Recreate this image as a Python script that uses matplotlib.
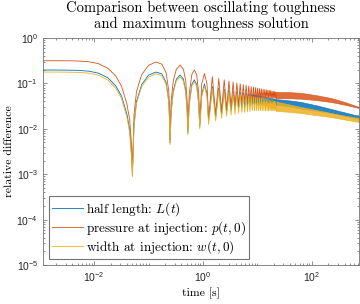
import numpy as np
import matplotlib
matplotlib.use('Agg')
import matplotlib.pyplot as plt
from matplotlib.ticker import LogLocator, NullFormatter

plt.rcParams['font.family'] = ['Liberation Sans', 'DejaVu Sans']
plt.rcParams['mathtext.fontset'] = 'cm'
plt.rcParams['axes.formatter.use_mathtext'] = True

# early part: flat start, first dip and the first wide oscillations
t_early = [1.15e-3, 2e-3, 3e-3, 5e-3, 8e-3, 0.012, 0.018, 0.025, 0.032, 0.04, 0.045, 0.049,
           0.0505,
           0.054, 0.06, 0.075, 0.1, 0.136, 0.175, 0.21, 0.235, 0.244,
           0.248,
           0.2597, 0.285, 0.324, 0.379, 0.4366, 0.4816, 0.5124,
           0.528,
           0.560, 0.625, 0.693, 0.763, 0.835,
           0.872,
           0.947, 1.064, 1.185,
           1.268]
L_early = [0.197, 0.197, 0.196, 0.194, 0.186, 0.168, 0.132, 0.088, 0.052, 0.021, 0.0095, 0.0025,
           0.00095,
           0.012, 0.04, 0.095, 0.152, 0.178, 0.162, 0.105, 0.042, 0.014,
           0.0049,
           0.024, 0.069, 0.124, 0.153, 0.124, 0.069, 0.024,
           0.0081,
           0.037, 0.096, 0.119, 0.096, 0.037,
           0.011,
           0.057, 0.097, 0.057,
           0.0145]
p_early = [0.316, 0.316, 0.315, 0.312, 0.300, 0.272, 0.215, 0.145, 0.086, 0.035, 0.016, 0.004,
           0.0011,
           0.02, 0.066, 0.157, 0.25, 0.296, 0.266, 0.172, 0.069, 0.023,
           0.0058,
           0.040, 0.115, 0.205, 0.254, 0.205, 0.115, 0.040,
           0.0095,
           0.061, 0.159, 0.197, 0.159, 0.061,
           0.013,
           0.097, 0.165, 0.097,
           0.017]
w_early = [0.178, 0.178, 0.177, 0.175, 0.168, 0.151, 0.118, 0.078, 0.046, 0.018, 0.0082, 0.0021,
           0.00088,
           0.011, 0.036, 0.086, 0.137, 0.163, 0.147, 0.095, 0.038, 0.0127,
           0.0045,
           0.0217, 0.063, 0.112, 0.139, 0.112, 0.063, 0.0217,
           0.0074,
           0.034, 0.088, 0.109, 0.088, 0.034,
           0.010,
           0.051, 0.088, 0.051,
           0.0125]

# later oscillations: peaks and dips
t_peak = [1.485, 1.950, 2.455, 2.998, 3.576, 4.187, 4.829, 5.501, 6.202, 6.930, 7.684, 8.464, 9.269,
          10.10, 10.95, 11.82, 12.72, 13.64, 14.58, 15.54, 16.52, 17.52, 18.54, 19.58, 20.64, 21.71]
t_dip = [1.712, 2.198, 2.722, 3.283, 3.877, 4.504, 5.161, 5.848, 6.562, 7.303, 8.071, 8.863, 9.680,
         10.52, 11.38, 12.27, 13.18, 14.11, 15.06, 16.03, 17.02, 18.03, 19.06, 20.10, 21.17, 22.26]
L_peak = [0.085, 0.079, 0.074, 0.071, 0.068, 0.066, 0.064, 0.062, 0.061, 0.059, 0.058, 0.057, 0.056,
          0.055, 0.054, 0.053, 0.052, 0.051, 0.050, 0.049, 0.048, 0.047, 0.047, 0.046, 0.045, 0.045]
L_dip = [0.018, 0.021, 0.023, 0.025, 0.027, 0.028, 0.029, 0.030, 0.031, 0.032, 0.032, 0.033, 0.033,
         0.033, 0.034, 0.034, 0.034, 0.034, 0.034, 0.034, 0.034, 0.034, 0.034, 0.034, 0.034, 0.034]
p_peak = [0.140, 0.128, 0.120, 0.113, 0.107, 0.102, 0.098, 0.094, 0.091, 0.088, 0.085, 0.083, 0.081,
          0.079, 0.077, 0.076, 0.074, 0.073, 0.072, 0.071, 0.070, 0.069, 0.068, 0.067, 0.066, 0.065]
p_dip = [0.021, 0.025, 0.028, 0.031, 0.033, 0.035, 0.037, 0.039, 0.040, 0.041, 0.042, 0.043, 0.044,
         0.045, 0.045, 0.046, 0.046, 0.047, 0.047, 0.047, 0.047, 0.047, 0.047, 0.047, 0.047, 0.047]
w_peak = [0.077, 0.071, 0.067, 0.064, 0.061, 0.059, 0.058, 0.056, 0.055, 0.053, 0.052, 0.051, 0.050,
          0.049, 0.049, 0.048, 0.047, 0.046, 0.045, 0.044, 0.043, 0.042, 0.042, 0.041, 0.041, 0.040]
w_dip = [0.015, 0.017, 0.019, 0.020, 0.021, 0.022, 0.023, 0.023, 0.024, 0.024, 0.025, 0.025, 0.025,
         0.025, 0.025, 0.025, 0.025, 0.025, 0.025, 0.025, 0.025, 0.025, 0.025, 0.025, 0.025, 0.025]

# dense oscillations at late time, seen as a band: upper and lower edge
t_band = [21.7, 40, 63, 120, 224, 400, 735]
L_hi = [0.045, 0.042, 0.039, 0.033, 0.0273, 0.023, 0.0191]
L_lo = [0.034, 0.031, 0.028, 0.025, 0.0225, 0.0195, 0.0164]
p_hi = [0.065, 0.064, 0.062, 0.055, 0.0477, 0.039, 0.0302]
p_lo = [0.047, 0.047, 0.046, 0.043, 0.039, 0.034, 0.0287]
w_hi = [0.040, 0.034, 0.0302, 0.026, 0.0223, 0.0195, 0.0173]
w_lo = [0.025, 0.0235, 0.0223, 0.020, 0.0182, 0.016, 0.0141]

labels = ['half length: $L(t)$', 'pressure at injection: $p(t,0)$', 'width at injection: $w(t,0)$']
colors = ['#0072BD', '#D95319', '#EDB120']


def build(early_t, early_v, peak_v, dip_v):
    t = list(early_t)
    v = list(early_v)
    for tp, vp, td, vd in zip(t_peak, peak_v, t_dip, dip_v):
        t += [tp, td]
        v += [vp, vd]
    return t, v


series = [
    (L_early, L_peak, L_dip, L_lo, L_hi),
    (p_early, p_peak, p_dip, p_lo, p_hi),
    (w_early, w_peak, w_dip, w_lo, w_hi),
]

fig = plt.figure(figsize=(3.6, 3.04), dpi=100)
ax = fig.add_axes([43 / 360, 39 / 304, 316 / 360, 227 / 304])

for (ev, pv, dv, lo, hi), c, lab in zip(series, colors, labels):
    t, v = build(t_early, ev, pv, dv)
    ax.plot(t, v, color=c, lw=0.6, label=lab)
    ax.fill_between(t_band, lo, hi, facecolor=c, edgecolor=c, lw=0.5, alpha=0.85)

ax.set_xscale('log')
ax.set_yscale('log')
ax.set_xlim(1.15e-3, 735)
ax.set_ylim(1e-5, 1)
ax.set_xticks([1e-2, 1, 1e2])
ax.set_yticks([1e-5, 1e-4, 1e-3, 1e-2, 1e-1, 1])
ax.xaxis.set_minor_locator(LogLocator(base=10, subs=np.arange(1, 10), numticks=30))
ax.yaxis.set_minor_locator(LogLocator(base=10, subs=np.arange(2, 10), numticks=30))
ax.xaxis.set_minor_formatter(NullFormatter())
ax.yaxis.set_minor_formatter(NullFormatter())
ax.tick_params(which='both', direction='in', top=True, right=True, color='0.4',
               labelcolor='0.15', labelsize=7.5, width=0.5)
ax.tick_params(which='major', length=3)
ax.tick_params(which='minor', length=1.5)
for s in ax.spines.values():
    s.set_color('0.45')
    s.set_linewidth(0.6)

ax.set_title('Comparison between oscillating toughness\nand maximum toughness solution',
             fontfamily='cmr10', fontsize=10.5, pad=7, linespacing=1.2)
ax.set_xlabel('time [s]', fontfamily='cmr10', fontsize=8.5, labelpad=3)
ax.set_ylabel('relative difference', fontfamily='cmr10', fontsize=8.5, labelpad=2)

leg = ax.legend(loc='lower left', prop={'family': 'cmr10', 'size': 9.5}, handlelength=2.3,
                handletextpad=0.25, labelspacing=0.1, borderpad=0.25, borderaxespad=0.45,
                fancybox=False, framealpha=1)
leg.get_frame().set_edgecolor('0.45')
leg.get_frame().set_linewidth(0.8)

fig.savefig('out.png', dpi=100)
